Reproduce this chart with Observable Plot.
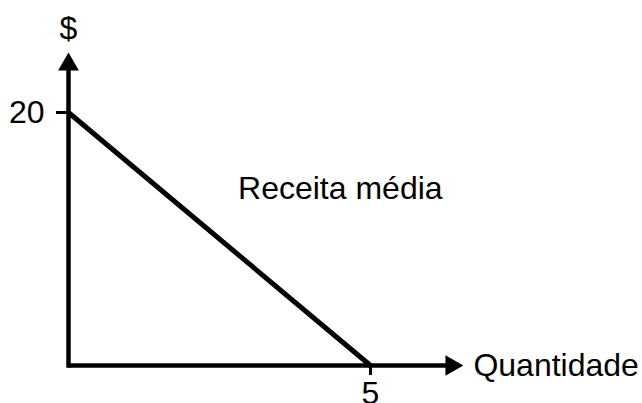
<!DOCTYPE html>
<html>
<head>
<meta charset="utf-8">
<script src="https://cdn.jsdelivr.net/npm/d3@7"></script>
<script src="https://cdn.jsdelivr.net/npm/@observablehq/plot@0.6"></script>
<style>
  html, body { margin: 0; padding: 0; background: #fff; }
  svg { display: block; }
</style>
</head>
<body>
<div id="chart"></div>
<script>
// Data
const quantity = [0, 5];
const price = [20, 0];
const xTicks = [5];
const yTicks = [20];
const curveLabel = "Receita média";
const xLabel = "Quantidade";
const yLabel = "$";
const labelPos = {x: 4.5, y: 14};
const xAxisEnd = 6.34;
const yAxisEnd = 23.8;

const demand = quantity.map((q, i) => ({q, p: price[i]}));

const font = "'Liberation Sans', Arial, sans-serif";
const fs = 32;

const chart = Plot.plot({
  width: 642,
  height: 403,
  marginLeft: 68,
  marginRight: 272,
  marginTop: 112,
  marginBottom: 38,
  style: {fontFamily: font, background: "#fff", color: "#000"},
  x: {domain: [0, 5]},
  y: {domain: [0, 20]},
  marks: [
    // axes lines
    Plot.line([{x: 0, y: 0}, {x: xAxisEnd, y: 0}], {x: "x", y: "y", stroke: "#000", strokeWidth: 4.5, strokeLinecap: "butt"}),
    Plot.line([{x: 0, y: 0}, {x: 0, y: yAxisEnd}], {x: "x", y: "y", stroke: "#000", strokeWidth: 4.5, strokeLinecap: "square"}),
    // arrowheads
    Plot.dot([{x: xAxisEnd, y: 0}], {x: "x", y: "y", symbol: "triangle", r: 7.7, fill: "#000", stroke: "none", rotate: 90}),
    Plot.dot([{x: 0, y: yAxisEnd}], {x: "x", y: "y", symbol: "triangle", r: 7.7, fill: "#000", stroke: "none"}),
    // ticks
    Plot.axisY({ticks: yTicks, tickSize: 12, tickPadding: 12, fontSize: fs, strokeWidth: 3, label: null, tickFormat: d => String(d)}),
    Plot.axisX({ticks: xTicks, tickSize: 10, tickPadding: 6, fontSize: fs, strokeWidth: 3, label: null, tickFormat: d => String(d)}),
    // demand line
    Plot.line(demand, {x: "q", y: "p", stroke: "#000", strokeWidth: 5}),
    // labels
    Plot.text([curveLabel], {x: labelPos.x, y: labelPos.y, text: d => d, fontSize: fs, fill: "#000"}),
    Plot.text([xLabel], {x: xAxisEnd, y: 0, text: d => d, fontSize: fs, fill: "#000", textAnchor: "start", dx: 22}),
    Plot.text([yLabel], {x: 0, y: yAxisEnd, text: d => d, fontSize: fs, fill: "#000", dy: -36})
  ]
});
document.getElementById("chart").appendChild(chart);
</script>
</body>
</html>
